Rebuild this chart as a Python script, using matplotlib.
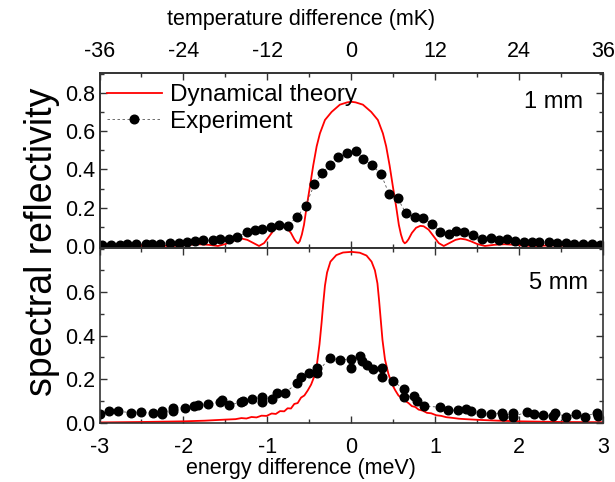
import matplotlib
matplotlib.use("Agg")
import matplotlib.pyplot as plt
from matplotlib.ticker import MultipleLocator

plt.rcParams['font.family'] = ['Liberation Sans', 'DejaVu Sans']
plt.rcParams['axes.unicode_minus'] = False

# === 1. Data ===
# 1 mm crystal: dynamical theory curve (energy in meV, reflectivity)
theory_1mm_e = [-3.0, -2.7, -2.45, -2.3, -2.15, -2.05, -1.95, -1.82, -1.7, -1.59,
                -1.5, -1.42, -1.36, -1.30, -1.24, -1.17, -1.10, -1.04, -0.98, -0.92,
                -0.86, -0.82, -0.77, -0.72, -0.68, -0.655, -0.635, -0.615, -0.59, -0.565,
                -0.533, -0.494, -0.455, -0.414, -0.375, -0.315, -0.236, -0.137, -0.05, 0.0,
                0.05, 0.137, 0.236, 0.315, 0.375, 0.414, 0.455, 0.494, 0.533, 0.565,
                0.59, 0.615, 0.635, 0.655, 0.68, 0.72, 0.77, 0.82, 0.86, 0.92,
                0.98, 1.04, 1.10, 1.17, 1.24, 1.30, 1.36, 1.42, 1.5, 1.59,
                1.7, 1.82, 1.95, 2.05, 2.15, 2.3, 2.45, 2.7, 3.0]
theory_1mm_r = [0.001, 0.002, 0.003, 0.002, 0.0, 0.002, 0.006, 0.009, 0.006, 0.0,
                0.010, 0.025, 0.034, 0.038, 0.032, 0.016, 0.0, 0.015, 0.050, 0.085,
                0.103, 0.105, 0.095, 0.068, 0.035, 0.020, 0.014, 0.025, 0.060, 0.110,
                0.205, 0.310, 0.420, 0.520, 0.588, 0.658, 0.700, 0.738, 0.750, 0.753,
                0.750, 0.738, 0.700, 0.658, 0.588, 0.520, 0.420, 0.310, 0.205, 0.110,
                0.060, 0.025, 0.014, 0.020, 0.035, 0.068, 0.095, 0.105, 0.103, 0.085,
                0.050, 0.015, 0.0, 0.016, 0.032, 0.038, 0.034, 0.025, 0.010, 0.0,
                0.006, 0.009, 0.006, 0.002, 0.0, 0.002, 0.003, 0.002, 0.001]

# 1 mm crystal: experiment
exp_1mm_e = [-2.97, -2.86, -2.75, -2.67, -2.57, -2.45, -2.37, -2.28, -2.16, -2.05,
             -1.96, -1.86, -1.77, -1.65, -1.56, -1.46, -1.36, -1.24, -1.15, -1.06,
             -0.96, -0.86, -0.76, -0.65, -0.545, -0.44, -0.35, -0.256, -0.157, -0.057,
             0.05, 0.14, 0.24, 0.35, 0.45, 0.55, 0.65, 0.755, 0.855, 0.955,
             1.06, 1.16, 1.25, 1.34, 1.45, 1.56, 1.66, 1.76, 1.85, 1.95,
             2.05, 2.15, 2.24, 2.35, 2.45, 2.55, 2.65, 2.76, 2.86, 2.96]
exp_1mm_r = [0.005, 0.006, 0.005, 0.008, 0.010, 0.010, 0.012, 0.012, 0.017, 0.018,
             0.019, 0.027, 0.029, 0.030, 0.034, 0.035, 0.047, 0.074, 0.085, 0.089,
             0.099, 0.107, 0.106, 0.151, 0.210, 0.323, 0.379, 0.423, 0.465, 0.483,
             0.498, 0.454, 0.423, 0.378, 0.270, 0.250, 0.170, 0.153, 0.148, 0.115,
             0.075, 0.063, 0.078, 0.071, 0.055, 0.038, 0.040, 0.030, 0.035, 0.026,
             0.022, 0.022, 0.019, 0.019, 0.014, 0.014, 0.010, 0.010, 0.010, 0.005]

# 5 mm crystal: dynamical theory curve
theory_5mm_e = [-3.0, -2.5, -2.0, -1.75, -1.5, -1.38, -1.31, -1.25, -1.19, -1.13,
                -1.07, -1.01, -0.95, -0.90, -0.85, -0.80, -0.76, -0.72, -0.68, -0.64,
                -0.60, -0.56, -0.52, -0.48, -0.44, -0.41, -0.38, -0.355, -0.335, -0.315,
                -0.29, -0.25, -0.18, -0.10, 0.0, 0.10, 0.18, 0.24, 0.28, 0.31,
                0.33, 0.35, 0.37, 0.40, 0.44, 0.48, 0.52, 0.56, 0.60, 0.64,
                0.68, 0.72, 0.76, 0.80, 0.85, 0.90, 0.95, 1.01, 1.07, 1.13,
                1.20, 1.28, 1.36, 1.5, 1.75, 2.0, 2.5, 3.0]
theory_5mm_r = [0.001, 0.003, 0.006, 0.009, 0.014, 0.016, 0.021, 0.019, 0.026, 0.024,
                0.032, 0.031, 0.042, 0.040, 0.053, 0.052, 0.066, 0.065, 0.086, 0.090,
                0.115, 0.125, 0.148, 0.175, 0.215, 0.270, 0.360, 0.460, 0.550, 0.630,
                0.690, 0.740, 0.770, 0.782, 0.785, 0.781, 0.768, 0.740, 0.700, 0.640,
                0.560, 0.470, 0.380, 0.290, 0.225, 0.180, 0.150, 0.125, 0.112, 0.100,
                0.090, 0.076, 0.072, 0.060, 0.055, 0.045, 0.043, 0.034, 0.031, 0.025,
                0.022, 0.018, 0.016, 0.013, 0.009, 0.006, 0.003, 0.002]

# 5 mm crystal: experiment (repeated scans give doubled points)
exp_5mm_e = [-3.00, -2.89, -2.78, -2.62, -2.50, -2.36, -2.25, -2.25, -2.12, -2.12,
             -1.98, -1.87, -1.83, -1.71, -1.57, -1.54, -1.46, -1.32, -1.29, -1.18,
             -1.07, -1.06, -0.94, -0.89, -0.79, -0.65, -0.60, -0.51, -0.41, -0.41,
             -0.26, -0.14, 0.0, 0.0, 0.10, 0.125, 0.18, 0.26, 0.36, 0.36,
             0.49, 0.63, 0.63, 0.75, 0.78, 0.87, 1.05, 1.15, 1.27, 1.37,
             1.42, 1.54, 1.66, 1.79, 1.80, 1.92, 1.92, 2.09, 2.18, 2.28,
             2.40, 2.42, 2.56, 2.68, 2.78, 2.92, 2.94]
exp_5mm_r = [0.038, 0.052, 0.052, 0.046, 0.049, 0.043, 0.053, 0.039, 0.065, 0.053,
             0.065, 0.075, 0.079, 0.084, 0.095, 0.103, 0.081, 0.093, 0.099, 0.107,
             0.117, 0.097, 0.107, 0.134, 0.138, 0.180, 0.210, 0.229, 0.252, 0.228,
             0.298, 0.288, 0.292, 0.253, 0.307, 0.285, 0.264, 0.246, 0.252, 0.208,
             0.190, 0.155, 0.117, 0.122, 0.101, 0.076, 0.071, 0.058, 0.056, 0.062,
             0.053, 0.046, 0.038, 0.046, 0.029, 0.044, 0.027, 0.049, 0.041, 0.034,
             0.030, 0.045, 0.027, 0.040, 0.028, 0.046, 0.032]

temp_ticks = [-36, -24, -12, 0, 12, 24, 36]

# === 2. Figure and axes ===
fig = plt.figure(figsize=(6.15, 4.82), dpi=100)
ax1 = fig.add_axes([0.1618, 0.4865, 0.8192, 0.3627])
ax2 = fig.add_axes([0.1618, 0.1218, 0.8192, 0.3647], sharex=ax1)

red = '#ff0000'
exp_style = dict(color='#555555', linestyle=(0, (3, 3)), linewidth=0.6,
                 marker='o', markersize=6.2, markerfacecolor='black',
                 markeredgecolor='black')

# === 3. Plot the curves ===
ax1.plot(theory_1mm_e, theory_1mm_r, color=red, linewidth=1.3, label='Dynamical theory')
ax1.plot(exp_1mm_e, exp_1mm_r, label='Experiment', **exp_style)

ax2.plot(theory_5mm_e, theory_5mm_r, color=red, linewidth=1.3)
ax2.plot(exp_5mm_e, exp_5mm_r, **exp_style)

# === 4. Axes styling ===
for ax in (ax1, ax2):
    ax.set_xlim(-3, 3)
    ax.xaxis.set_major_locator(MultipleLocator(1))
    ax.xaxis.set_minor_locator(MultipleLocator(0.5))
    ax.yaxis.set_major_locator(MultipleLocator(0.2))
    ax.yaxis.set_minor_locator(MultipleLocator(0.1))
    ax.tick_params(which='both', direction='in', top=True, right=True,
                   width=1, labelsize=15.5, color='#333333')
    ax.tick_params(which='major', length=5)
    ax.tick_params(which='minor', length=3)
    ax.tick_params(axis='y', pad=3)
    ax.tick_params(axis='x', pad=10)
    for s in ax.spines.values():
        s.set_linewidth(1.2)
        s.set_color('#333333')

ax1.set_ylim(-0.008, 0.905)
ax2.set_ylim(-0.003, 0.805)
ax2.set_yticks([0.0, 0.2, 0.4, 0.6])
ax1.tick_params(axis='x', labelbottom=False, top=False)

# temperature axis on top of the upper panel
ax_t = ax1.twiny()
ax_t.set_xlim(-36, 36)
ax_t.set_xticks(temp_ticks)
ax_t.xaxis.set_minor_locator(MultipleLocator(6))
ax_t.tick_params(which='both', direction='in', bottom=False, width=1,
                 labelsize=15.5, pad=8, color='#333333')
ax_t.tick_params(which='major', length=5)
ax_t.tick_params(which='minor', length=3)
for s in ax_t.spines.values():
    s.set_linewidth(1.2)
    s.set_color('#333333')

# === 5. Labels, legend, annotations ===
fig.text(0.068, 0.498, 'spectral reflectivity', rotation=90,
         ha='center', va='center', fontsize=27)
fig.text(0.4886, 0.0166, 'energy difference (meV)', ha='center', va='baseline', fontsize=15.5)
fig.text(0.4903, 0.948, 'temperature difference (mK)', ha='center', va='baseline', fontsize=15.5)

ax1.legend(loc='upper left', bbox_to_anchor=(0.0143, 0.935), frameon=False,
           fontsize=17.5, borderaxespad=0, borderpad=0, handlelength=2.26,
           handletextpad=0.34, labelspacing=0.2)
ax1.text(0.96, 0.834, '1 mm', transform=ax1.transAxes, ha='right', va='center', fontsize=17)
ax2.text(0.97, 0.798, '5 mm', transform=ax2.transAxes, ha='right', va='center', fontsize=17)

fig.savefig('out.png', dpi=100)
